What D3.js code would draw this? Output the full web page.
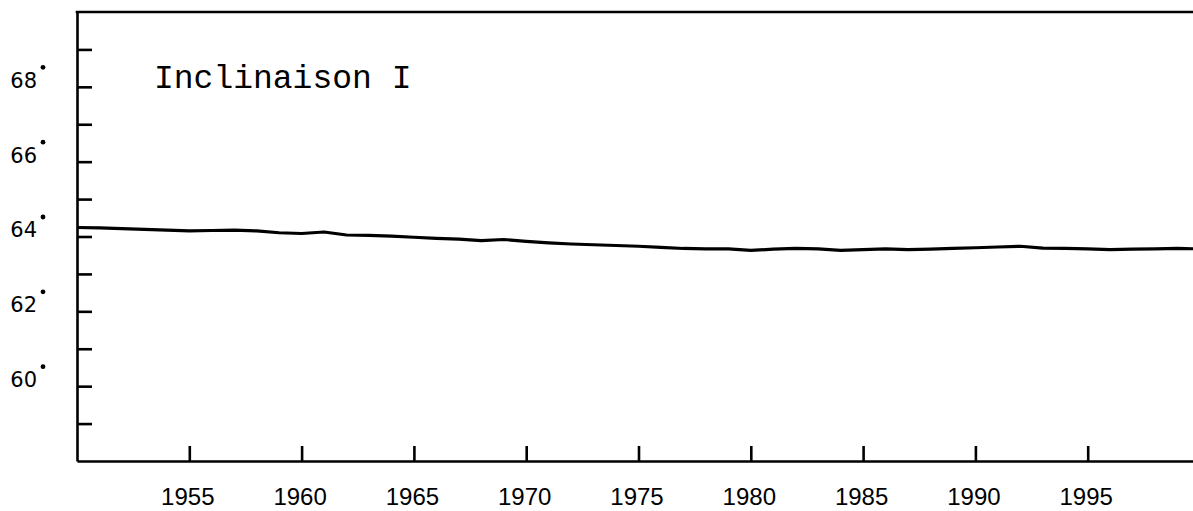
<!DOCTYPE html>
<html>
<head>
<meta charset="utf-8">
<script src="https://cdn.jsdelivr.net/npm/d3@7"></script>
<style>
  html, body { margin: 0; padding: 0; background: #fff; }
  svg { display: block; }
</style>
</head>
<body>
<div id="chart"></div>
<script>
// ---- data ----
const years = [1950,1951,1952,1953,1954,1955,1956,1957,1958,1959,
               1960,1961,1962,1963,1964,1965,1966,1967,1968,1969,
               1970,1971,1972,1973,1974,1975,1976,1977,1978,1979,
               1980,1981,1982,1983,1984,1985,1986,1987,1988,1989,
               1990,1991,1992,1993,1994,1995,1996,1997,1998,1999,2000];
const inclination = [64.24,64.23,64.21,64.19,64.17,64.15,64.16,64.17,64.15,64.10,
                     64.08,64.12,64.04,64.03,64.01,63.98,63.95,63.93,63.89,63.92,
                     63.87,63.83,63.80,63.78,63.76,63.74,63.71,63.68,63.67,63.67,
                     63.63,63.66,63.68,63.67,63.63,63.65,63.67,63.65,63.66,63.68,
                     63.70,63.72,63.74,63.69,63.68,63.67,63.65,63.66,63.67,63.68,63.67];
const yTickValues = [59,60,61,62,63,64,65,66,67,68,69];
const yLabelValues = [60,62,64,66,68];
const xTickValues = [1955,1960,1965,1970,1975,1980,1985,1990,1995];
const title = "Inclinaison I";

// ---- layout ----
const W = 1193, H = 511;
const svg = d3.select("#chart").append("svg").attr("width", W).attr("height", H);

const x = d3.scaleLinear().domain([1950, 2000]).range([77, 1200]);
const y = d3.scaleLinear().domain([58, 70]).range([461, 12]);

// left axis (ticks pointing inward)
const gy = svg.append("g").attr("transform", `translate(${x(1950)},0)`)
  .call(d3.axisLeft(y).tickValues(yTickValues).tickSizeInner(-15).tickSizeOuter(0)
        .tickPadding(40).tickFormat(d => yLabelValues.includes(d) ? String(d) : ""));
gy.attr("font-size", null).attr("font-family", null);
gy.select(".domain").attr("stroke", "#000").attr("stroke-width", 2.6);
gy.selectAll(".tick line").attr("stroke", "#000").attr("stroke-width", 2.6);
gy.selectAll(".tick text")
  .attr("dy", "0.02em")
  .style("font-family", "'DejaVu Sans', sans-serif")
  .style("font-size", "21px")
  .attr("fill", "#000");
// degree dots
gy.selectAll(".tick").filter(d => yLabelValues.includes(d))
  .append("circle").attr("cx", -34).attr("cy", -20).attr("r", 2.4).attr("fill", "#000");

// bottom axis
const gx = svg.append("g").attr("transform", `translate(0,${y(58)})`)
  .call(d3.axisBottom(x).tickValues(xTickValues).tickSizeInner(-15).tickSizeOuter(0)
        .tickPadding(27).tickFormat(d3.format("d")));
gx.attr("font-size", null).attr("font-family", null);
gx.select(".domain").attr("stroke", "#000").attr("stroke-width", 2.6);
gx.selectAll(".tick line").attr("stroke", "#000").attr("stroke-width", 2.6);
gx.selectAll(".tick text")
  .attr("dy", "0.72em")
  .attr("dx", "-2")
  .style("font-family", "'Liberation Sans', Arial, sans-serif")
  .style("font-size", "24px")
  .attr("fill", "#000");

// top frame line
svg.append("line")
  .attr("x1", x(1950) - 1.3).attr("x2", x(2000))
  .attr("y1", y(70)).attr("y2", y(70))
  .attr("stroke", "#000").attr("stroke-width", 2.6);

// data line
const line = d3.line().x((d, i) => x(years[i])).y(d => y(d));
svg.append("path")
  .datum(inclination)
  .attr("d", line)
  .attr("fill", "none")
  .attr("stroke", "#000")
  .attr("stroke-width", 3.2)
  .attr("stroke-linejoin", "round");

// title
svg.append("text")
  .attr("x", 154).attr("y", 88)
  .style("font-family", "'Liberation Mono', 'DejaVu Sans Mono', monospace")
  .style("font-size", "33px")
  .attr("fill", "#000")
  .text(title);
</script>
</body>
</html>
